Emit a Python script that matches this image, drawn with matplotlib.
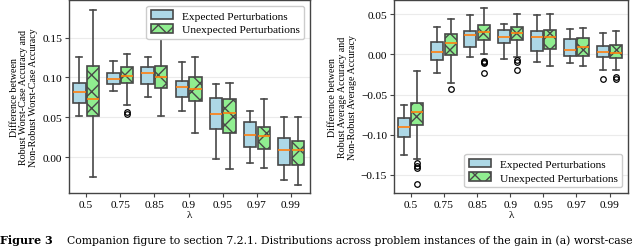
import matplotlib.pyplot as plt
import numpy as np

plt.rcParams['font.family'] = ['Liberation Serif', 'DejaVu Serif']
plt.rcParams['hatch.linewidth'] = 1.0
plt.rcParams['hatch.color'] = 'black'

lambdas = ['0.5', '0.75', '0.85', '0.9', '0.95', '0.97', '0.99']

# worst-case panel: (whislo, q1, med, q3, whishi)
wc_expected = [
    (0.051, 0.0675, 0.082, 0.093, 0.125),
    (0.083, 0.092, 0.098, 0.105, 0.121),
    (0.075, 0.0917, 0.105, 0.1125, 0.125),
    (0.058, 0.075, 0.088, 0.096, 0.119),
    (-0.002, 0.035, 0.054, 0.074, 0.092),
    (-0.007, 0.0125, 0.028, 0.044, 0.058),
    (-0.029, -0.0096, 0.009, 0.024, 0.050),
]
wc_unexpected = [
    (-0.025, 0.051, 0.073, 0.114, 0.185),
    (0.066, 0.093, 0.102, 0.1125, 0.129),
    (0.051, 0.087, 0.101, 0.114, 0.148),
    (0.030, 0.071, 0.085, 0.100, 0.125),
    (-0.015, 0.030, 0.055, 0.073, 0.093),
    (-0.013, 0.0096, 0.027, 0.0375, 0.073),
    (-0.035, -0.010, 0.009, 0.020, 0.050),
]
wc_exp_fliers = [[], [], [], [], [], [], []]
wc_unexp_fliers = [[], [0.057, 0.054], [], [], [], [], []]

# average panel
avg_expected = [
    (-0.125, -0.103, -0.091, -0.079, -0.063),
    (-0.023, -0.0075, 0.003, 0.0154, 0.034),
    (-0.003, 0.009, 0.0246, 0.029, 0.049),
    (-0.006, 0.0146, 0.0217, 0.030, 0.038),
    (-0.009, 0.004, 0.0217, 0.029, 0.049),
    (-0.011, -0.002, 0.006, 0.019, 0.032),
    (-0.020, -0.003, 0.003, 0.010, 0.027),
]
avg_unexpected = [
    (-0.130, -0.088, -0.072, -0.060, -0.021),
    (-0.035, -0.0004, 0.014, 0.025, 0.044),
    (0.000, 0.018, 0.028, 0.037, 0.058),
    (-0.003, 0.018, 0.027, 0.034, 0.050),
    (-0.0146, 0.007, 0.022, 0.030, 0.051),
    (-0.0146, -0.002, 0.009, 0.020, 0.033),
    (-0.020, -0.004, 0.002, 0.012, 0.029),
]
avg_exp_fliers = [[], [], [], [], [], [], [-0.030]]
avg_unexp_fliers = [[-0.136, -0.139, -0.142, -0.162], [-0.043],
                    [-0.008, -0.010, -0.011, -0.023], [-0.007, -0.010, -0.020],
                    [], [], [-0.028, -0.030]]


def make_stats(rows, fliers):
    stats = []
    for (lo, q1, med, q3, hi), fl in zip(rows, fliers):
        stats.append(dict(whislo=lo, q1=q1, med=med, q3=q3, whishi=hi, fliers=fl))
    return stats


def draw_panel(ax, exp_rows, exp_fl, unexp_rows, unexp_fl):
    x = np.arange(len(lambdas))
    common = dict(patch_artist=True, widths=0.36, showcaps=True,
                  boxprops=dict(edgecolor='#484848', linewidth=1.2),
                  whiskerprops=dict(color='#484848', linewidth=1.2),
                  capprops=dict(color='#484848', linewidth=1.2),
                  medianprops=dict(color='#ff7f0e', linewidth=1.2),
                  flierprops=dict(marker='o', markersize=4, markerfacecolor='none',
                                  markeredgecolor='black', markeredgewidth=0.9))
    b1 = ax.bxp(make_stats(exp_rows, exp_fl), positions=x - 0.2, **common)
    b2 = ax.bxp(make_stats(unexp_rows, unexp_fl), positions=x + 0.2, **common)
    for p in b1['boxes']:
        p.set_facecolor('#add8e6')
    for p in b2['boxes']:
        p.set_facecolor('#90ee90')
        p.set_hatch('xx')
    ax.set_xticks(x)
    ax.set_xticklabels(lambdas)
    ax.set_xlim(-0.5, 6.55)
    ax.set_xlabel('λ', fontsize=8, labelpad=1)
    ax.tick_params(labelsize=8.2, length=3, color='#444444', pad=2)
    ax.grid(True, axis='y', color='#ebebeb', linewidth=0.8)
    ax.set_axisbelow(True)
    for s in ax.spines.values():
        s.set_color('#444444')
        s.set_linewidth(1.0)
    return b1, b2


fig = plt.figure(figsize=(6.4, 2.53), dpi=100)
ax1 = fig.add_axes([0.108, 0.233, 0.376, 0.763])
ax2 = fig.add_axes([0.616, 0.233, 0.365, 0.763])

legend_opts = dict(fontsize=8.2, framealpha=1, edgecolor='#cccccc',
                   handlelength=1.9, handleheight=0.8, borderpad=0.4,
                   labelspacing=0.3, handletextpad=0.8)

b1, b2 = draw_panel(ax1, wc_expected, wc_exp_fliers, wc_unexpected, wc_unexp_fliers)
ax1.set_ylim(-0.045, 0.197)
ax1.set_yticks([0.0, 0.05, 0.10, 0.15])
ax1.set_yticklabels(['0.00', '0.05', '0.10', '0.15'])
ax1.set_ylabel('Difference between\nRobust Worst-Case Accuracy and\nNon-Robust Worst-Case Accuracy',
               fontsize=7.2, labelpad=3, linespacing=1.1)
ax1.legend([b1['boxes'][0], b2['boxes'][0]], ['Expected Perturbations', 'Unexpected Perturbations'],
           loc='upper right', **legend_opts)

c1, c2 = draw_panel(ax2, avg_expected, avg_exp_fliers, avg_unexpected, avg_unexp_fliers)
ax2.set_ylim(-0.173, 0.068)
ax2.set_yticks([-0.15, -0.10, -0.05, 0.0, 0.05])
ax2.set_yticklabels(['−0.15', '−0.10', '−0.05', '0.00', '0.05'])
ax2.set_ylabel('Difference between\nRobust Average Accuracy and\nNon-Robust Average Accuracy',
               fontsize=7.2, labelpad=3, linespacing=1.1)
ax2.legend([c1['boxes'][0], c2['boxes'][0]], ['Expected Perturbations', 'Unexpected Perturbations'],
           loc='lower right', **legend_opts)

fig.text(0.0, 0.035, 'Figure 3', fontsize=8, fontweight='bold', family='DejaVu Serif')
fig.text(0.105, 0.035, 'Companion figure to section 7.2.1. Distributions across problem instances of the gain in (a) worst-case',
         fontsize=7.8, family='DejaVu Serif')

fig.savefig('out.png', dpi=100)
